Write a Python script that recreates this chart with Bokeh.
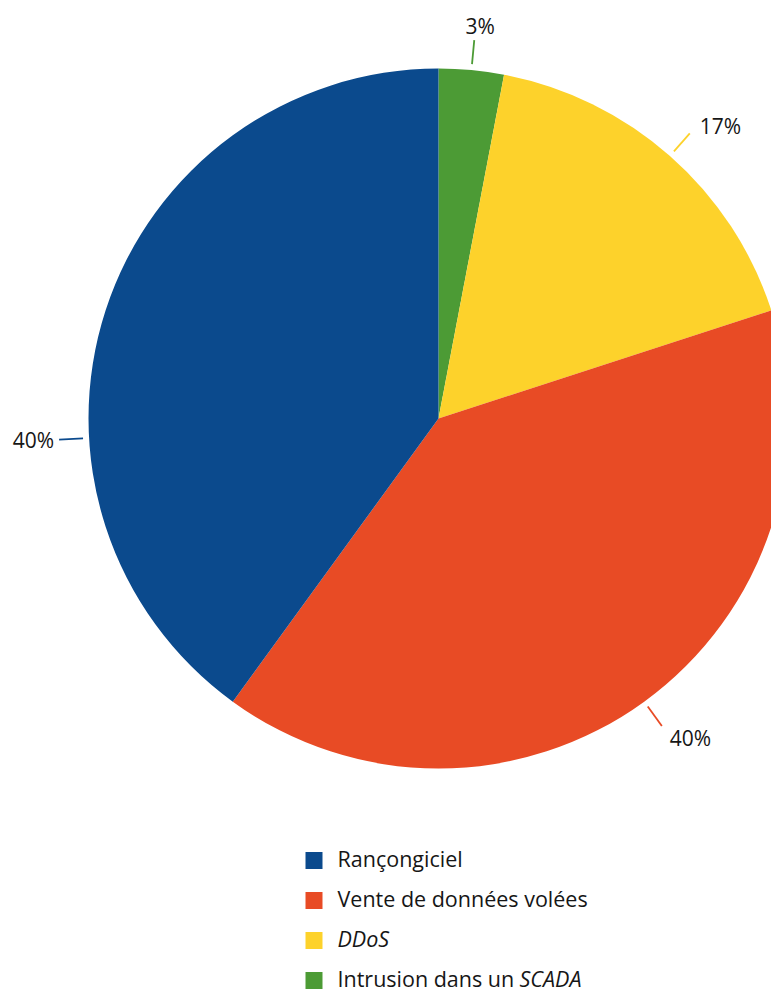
import numpy as np
from bokeh.plotting import figure
from bokeh.models import Range1d
from bokeh.core.properties import value
from bokeh.embed import file_html
from bokeh.resources import INLINE

# ---- data ----
categories = ["Rançongiciel", "Vente de données volées", "DDoS", "Intrusion dans un SCADA"]
shares = [40, 40, 17, 3]
colors = ["#0B4A8D", "#E84B25", "#FDD22B", "#4C9B35"]
pct_labels = ["40%", "40%", "17%", "3%"]

FONT = "Open Sans"
TXT = "#161616"

W, H = 771, 999
p = figure(width=W, height=H, x_range=Range1d(0, W), y_range=Range1d(0, H),
           output_backend="svg", toolbar_location=None, min_border=0)
p.axis.visible = False
p.grid.visible = False
p.outline_line_color = None

def Y(py):
    return H - py

cx, cy, R = 438, Y(418), 350

# pie drawn clockwise from 12 o'clock, in reverse legend order
order = [3, 2, 1, 0]
frac = np.array([shares[i] for i in order], float) / sum(shares)
cum = np.concatenate([[0.0], np.cumsum(frac)]) * 2 * np.pi
t0, t1 = cum[:-1], cum[1:]
p.wedge(x=cx, y=cy, radius=R, start_angle=list(np.pi / 2 - t0), end_angle=list(np.pi / 2 - t1),
        direction="clock", fill_color=[colors[i] for i in order], line_color=None)

# leader lines
mid = (t0 + t1) / 2
mid[3] = np.deg2rad(266.8)  # blue label placed at the left
r1, r2 = 356, 380
x1 = cx + r1 * np.sin(mid); y1 = cy + r1 * np.cos(mid)
x2 = cx + r2 * np.sin(mid); y2 = cy + r2 * np.cos(mid)
p.segment(x0=list(x1), y0=list(y1), x1=list(x2), y1=list(y2),
          line_color=[colors[i] for i in order], line_width=1.8)

aligns = ["center", "left", "left", "right"]
xoffs = [6, 10, 8, -5]
yoffs = [-14, -7, 12, 0]
for k, i in enumerate(order):
    p.text(x=[x2[k]], y=[y2[k]], text=[pct_labels[i]], text_align=aligns[k],
           text_baseline="middle", x_offset=xoffs[k], y_offset=yoffs[k],
           text_font=value(FONT), text_font_size="21px", text_color=TXT)

# legend
ly = [Y(860 + 40 * i) for i in range(len(categories))]
p.rect(x=[313.5] * len(categories), y=ly, width=17, height=17, fill_color=colors, line_color=None)
styles = ["normal", "normal", "italic", "normal"]
texts = list(categories)
texts[3] = "Intrusion dans un"
for i in range(len(categories)):
    p.text(x=[337], y=[ly[i]], text=[texts[i]], text_align="left", text_baseline="middle",
           y_offset=-2, text_font=value(FONT), text_font_size="21.5px",
           text_font_style=styles[i], text_color=TXT)
p.text(x=[519], y=[ly[3]], text=["SCADA"], text_align="left", text_baseline="middle",
       y_offset=-2, text_font=value(FONT), text_font_size="21.5px", text_font_style="italic",
       text_color=TXT)

open("out.html", "w").write(file_html(p, INLINE))
